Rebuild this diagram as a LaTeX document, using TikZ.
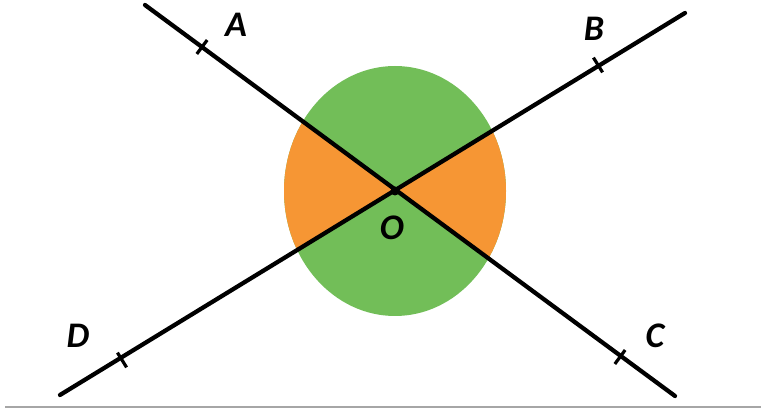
\documentclass[tikz,border=0pt]{standalone}
\usepackage{fontspec}
\setmainfont{Carlito}
\usetikzlibrary{calc}

\definecolor{sectgreen}{RGB}{114,190,88}
\definecolor{sectorange}{RGB}{246,150,52}
\tikzset{every picture/.style={line width=0.75pt}}
\tikzset{
  ray/.style={line width=3.2pt, line cap=round},
  tick/.style={line width=2.4pt},
  ptlabel/.style={inner sep=0.75pt, font=\fontsize{27}{27}\selectfont\bfseries\itshape}
}

\begin{document}
\begin{tikzpicture}[x=0.75pt,y=0.75pt,yscale=-1,xscale=1]
\useasboundingbox (0,0) rectangle (761,409);

% end points of the two lines
\coordinate (O) at (395,191);
\coordinate (pA) at (145,5);
\coordinate (pC) at (675,396);
\coordinate (pB) at (685,13);
\coordinate (pD) at (60,395);

%Shape: Ellipse (green)
\fill [sectgreen] (O) ellipse [x radius=111, y radius=125];
%Shape: orange sectors
\begin{scope}
\clip (O) ellipse [x radius=111, y radius=125];
\fill [sectorange] (O) -- (pA) -- (pD) -- cycle;
\fill [sectorange] (O) -- (pB) -- (pC) -- cycle;
\end{scope}

%Straight Lines
\draw [ray] (pA) -- (pC);
\draw [ray] (pD) -- (pB);

% tick marks
\coordinate (tA) at (202,47);
\coordinate (tC) at (620,357);
\coordinate (tB) at (598,65);
\coordinate (tD) at (122,360);
\foreach \t in {tA,tB,tC,tD}
  \draw [tick] ($(\t)!6.5pt!90:(O)$) -- ($(\t)!6.5pt!-90:(O)$);

% centre dot
\fill (O) circle [radius=4.5];

% Text Node
\node (lA) at (236,25) [ptlabel] {A};
% Text Node
\node (lB) at (594,29) [ptlabel] {B};
% Text Node
\node (lC) at (655,336) [ptlabel] {C};
% Text Node
\node (lD) at (78,336) [ptlabel] {D};
% Text Node
\node (lO) at (392,228) [ptlabel] {O};

% bottom rule
\draw [line width=1.6pt, gray!70] (5,407) -- (761,407);

\end{tikzpicture}
\end{document}
